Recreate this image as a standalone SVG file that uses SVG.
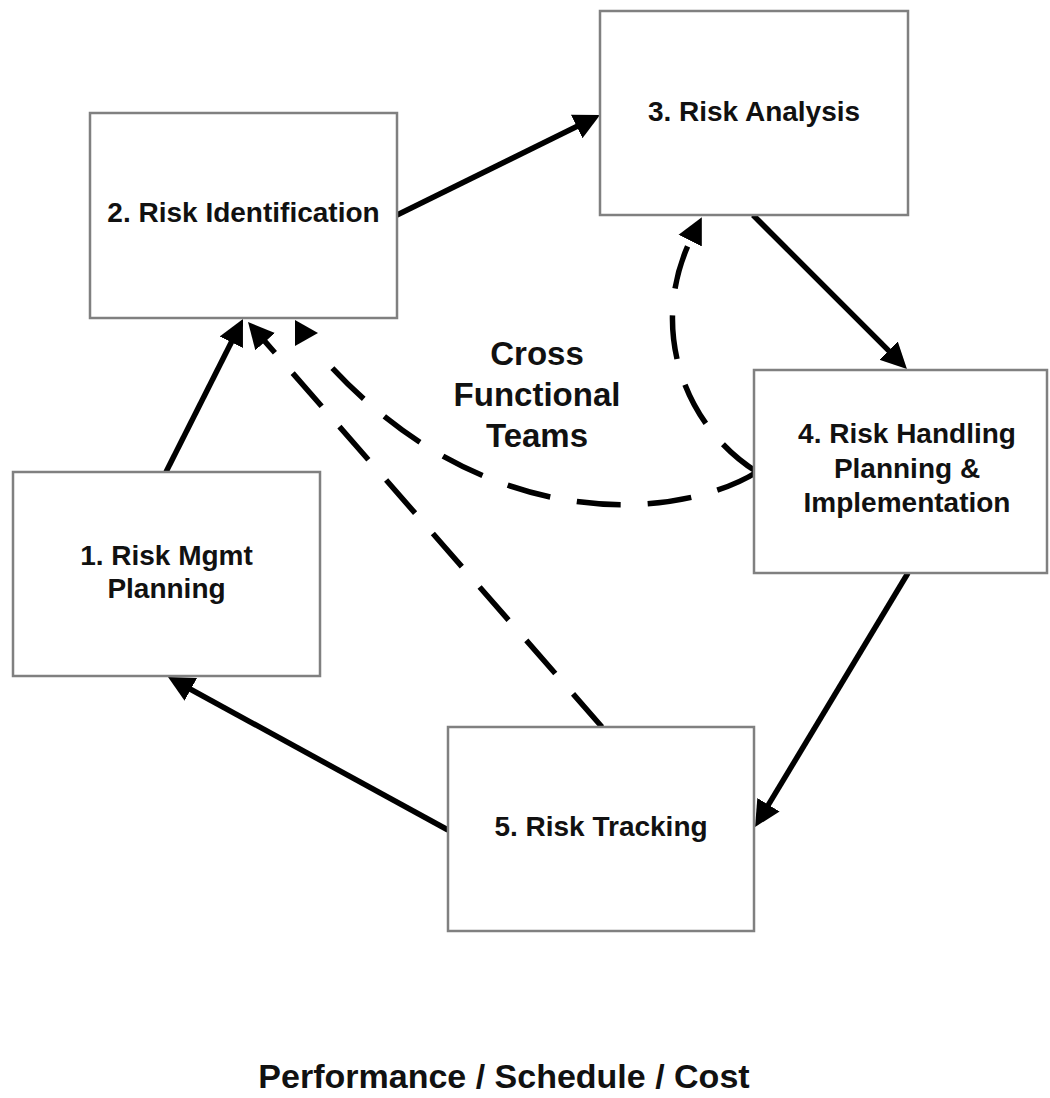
<svg xmlns="http://www.w3.org/2000/svg" width="1050" height="1098" viewBox="0 0 1050 1098">
<style>
.box{fill:#fff;stroke:#808080;stroke-width:2.5}
.t{font-family:"Liberation Sans",Arial,sans-serif;font-weight:bold;font-size:28px;fill:#111;text-anchor:middle}
.big{font-size:33px}
.bot{font-size:34px}
.c{fill:none;stroke:#000;stroke-width:5.5}
.d{stroke-dasharray:44 27}
</style>
<defs>
<marker id="ah" markerUnits="userSpaceOnUse" markerWidth="30" markerHeight="30" refX="4" refY="13" orient="auto" viewBox="0 0 30 26">
<path d="M0,0 L26,13 L0,26 z" fill="#000"/>
</marker>
</defs>
<rect width="1050" height="1098" fill="#fff"/>
<g id="connectors">
<path class="c" d="M166,472 L233.1,338.7" marker-end="url(#ah)"/>
<path class="c" d="M397,215 L580.3,124.7" marker-end="url(#ah)"/>
<path class="c" d="M753,215 L891.4,353.4" marker-end="url(#ah)"/>
<path class="c" d="M908,573 L766.4,808.2" marker-end="url(#ah)"/>
<path class="c" d="M448,830 L187.3,687.5" marker-end="url(#ah)"/>
<path class="c d" d="M602,727 L262.5,338.6" marker-end="url(#ah)"/>
<path class="c d" d="M757,472 C682,425 648,325 692,237" marker-end="url(#ah)"/>
<path class="c d" d="M757,472 C680,520 480,540 318,352"/>
<polygon points="295,320 295,346 318,333" fill="#000"/>
</g>
<g id="node1">
<rect class="box" x="13" y="472" width="307" height="204"/>
<text class="t" x="166.5" y="565">1. Risk Mgmt</text>
<text class="t" x="166.5" y="598">Planning</text>
</g>
<g id="node2">
<rect class="box" x="90" y="113" width="307" height="205"/>
<text class="t" x="243.5" y="222">2. Risk Identification</text>
</g>
<g id="node3">
<rect class="box" x="600" y="11" width="308" height="204"/>
<text class="t" x="754" y="121">3. Risk Analysis</text>
</g>
<g id="node4">
<rect class="box" x="754" y="370" width="293" height="203"/>
<text class="t" x="907" y="443">4. Risk Handling</text>
<text class="t" x="907" y="478">Planning &amp;</text>
<text class="t" x="907" y="512">Implementation</text>
</g>
<g id="node5">
<rect class="box" x="448" y="727" width="306" height="204"/>
<text class="t" x="601" y="836">5. Risk Tracking</text>
</g>
<g id="label">
<text class="t big" x="537" y="365">Cross</text>
<text class="t big" x="537" y="406">Functional</text>
<text class="t big" x="537" y="447">Teams</text>
<text class="t bot" x="504" y="1088">Performance / Schedule / Cost</text>
</g>
</svg>
